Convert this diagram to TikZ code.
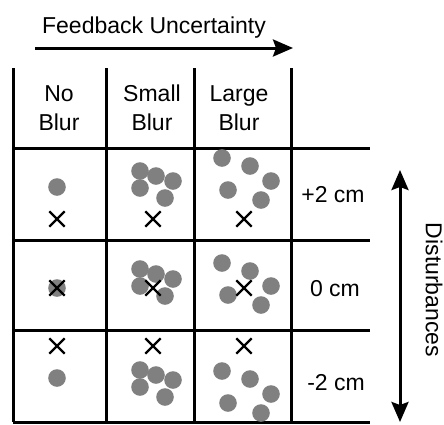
\documentclass[tikz,border=0pt]{standalone}
\usepackage{fontspec}
\setmainfont{Liberation Sans}
\usepackage{tikz}
\usetikzlibrary{arrows.meta,shapes.misc}

\tikzset{
  rule/.style={line width=3pt},
  lbl/.style={font=\fontsize{23}{29}\selectfont, inner sep=0pt, align=center},
  dot/.style={fill=black!50},
  target/.style={cross out, draw, line width=2.3pt, minimum size=13pt, inner sep=0pt},
  bigarrow/.style={line width=3pt},
  bigtip/.tip={Stealth[length=20pt,width=17pt,inset=3pt]},
}

\begin{document}
\begin{tikzpicture}[x=1pt,y=-1pt]
  \useasboundingbox (0,0) rectangle (444,424);
  % feedback axis
  \node[lbl, anchor=base] (fbtext) at (154,33) {Feedback Uncertainty};
  \coordinate (fbstart) at (35,48);
  \coordinate (fbend) at (293,48);
  \draw[bigarrow, -bigtip] (fbstart) -- (fbend);
  % table rules
  \foreach \x in {13,106,194,291}
    \draw[rule] (\x,68) -- (\x,422);
  \foreach \y in {148,240,330,422}
    \draw[rule] (13,\y) -- (370,\y);
  % column heads
  \node[lbl] (noblur) at (59,108) {No\\Blur};
  \node[lbl] (smallblur) at (152,108) {Small\\Blur};
  \node[lbl] (largeblur) at (239,108) {Large\\Blur};
  % row heads
  \node[lbl] (plustwo) at (333,195) {+2 cm};
  \node[lbl] (zero) at (335,289) {0 cm};
  \node[lbl] (minustwo) at (336,383) {-2 cm};
  % hits and targets
  \foreach \r/\ty/\ya/\yb/\yc in {1/219/187/183/179, 2/288/288/281/284, 3/346/378/382/392} {
    \fill[dot] (57,\ya) circle[radius=8.8pt];
    \foreach \dx/\dy in {-15/-12,1/-7,18/-2,-15/5,10/15}
      \fill[dot] (155+\dx,\yb+\dy) circle[radius=8.8pt];
    \foreach \dx/\dy in {-23/-21,5/-13,26/2,-17/11,16/21}
      \fill[dot] (245+\dx,\yc+\dy) circle[radius=8.8pt];
    \node[target] (t\r a) at (57,\ty) {};
    \node[target] (t\r b) at (153,\ty) {};
    \node[target] (t\r c) at (244,\ty) {};
  }
  % disturbance axis
  \coordinate (disttop) at (400,170);
  \coordinate (distbot) at (400,422);
  \draw[bigarrow, bigtip-bigtip] (disttop) -- (distbot);
  \node[lbl, rotate=-90] (disttext) at (434,290) {Disturbances};
\end{tikzpicture}
\end{document}
